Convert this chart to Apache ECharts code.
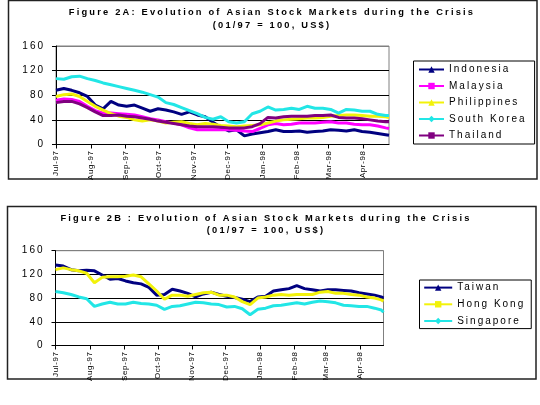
<!DOCTYPE html>
<html><head><meta charset="utf-8">
<script src="https://cdn.jsdelivr.net/npm/echarts@6/dist/echarts.min.js"></script>
<style>html,body{margin:0;padding:0;background:#fff}#c{width:540px;height:405px}</style>
</head><body><div id="c"></div>
<script>
// Letter spacing (the reference uses widely spaced text)
(function(){
  var P = CanvasRenderingContext2D.prototype;
  if (!('letterSpacing' in P)) return;
  function ls(font){
    var m = /(\d+(?:\.\d+)?)px/.exec(font || ''); var s = m ? parseFloat(m[1]) : 12;
    if (/bold|700/.test(font)) return '2.2px';
    if (s >= 9.5) return '2px';
    if (s >= 7.5 && s < 8.6) return '0.6px';
    return '0px';
  }
  var fT = P.fillText, mT = P.measureText;
  P.fillText = function(t,x,y,w){ var o=this.letterSpacing; this.letterSpacing=ls(this.font);
    var r = (w===undefined) ? fT.call(this,t,x,y) : fT.call(this,t,x,y,w); this.letterSpacing=o; return r; };
  P.measureText = function(t){ var o=this.letterSpacing; this.letterSpacing=ls(this.font);
    var r = mT.call(this,t); this.letterSpacing=o; return r; };
})();

const datesA = ['1997-07-01','1997-07-08','1997-07-15','1997-07-22','1997-07-29','1997-08-05','1997-08-12','1997-08-19','1997-08-26','1997-09-02',
'1997-09-09','1997-09-16','1997-09-23','1997-09-30','1997-10-07','1997-10-14','1997-10-21','1997-10-28','1997-11-04','1997-11-11',
'1997-11-18','1997-11-25','1997-12-02','1997-12-09','1997-12-16','1997-12-23','1997-12-30','1998-01-06','1998-01-13','1998-01-20',
'1998-01-27','1998-02-03','1998-02-10','1998-02-17','1998-02-24','1998-03-03','1998-03-10','1998-03-17','1998-03-24','1998-03-31',
'1998-04-07','1998-04-14','1998-04-21','1998-04-24'];
const datesB = ['1997-07-01','1997-07-08','1997-07-15','1997-07-22','1997-07-29','1997-08-05','1997-08-12','1997-08-19','1997-08-26','1997-09-02',
'1997-09-09','1997-09-16','1997-09-23','1997-09-30','1997-10-07','1997-10-14','1997-10-21','1997-10-28','1997-11-04','1997-11-11',
'1997-11-18','1997-11-25','1997-12-02','1997-12-09','1997-12-16','1997-12-23','1997-12-30','1998-01-06','1998-01-13','1998-01-20',
'1998-01-27','1998-02-03','1998-02-10','1998-02-17','1998-02-24','1998-03-03','1998-03-10','1998-03-17','1998-03-24','1998-03-31',
'1998-04-07','1998-04-14','1998-04-20','1998-04-22'];

const indonesia   = [88,91,88,84,78,64,58,70,64,62, 64,59,54,58,56,53,49,53,48,45, 36,28,22,24,14,17,19,21,24,21, 21,22,20,21,22,24,23,22,24,21, 20,18,16,15];
const malaysia    = [72,74,73,70,62,55,51,51,50,49, 48,45,42,40,37,35,32,27,24,24, 24,24,24,23,22,21,26,32,34,32, 33,35,35,35,36,37,35,35,33,32, 32,30,27,26];
const philippines = [78,81,82,78,70,62,56,50,46,44, 40,38,40,38,35,36,37,34,32,34, 33,31,30,29,30,31,32,35,38,40, 41,42,43,43,44,46,47,48,48,47, 46,46,45,44];
const southKorea  = [107,106,110,111,107,104,100,97,94,91, 88,85,81,77,68,65,60,55,50,44, 41,45,37,35,37,50,54,61,56,57, 59,57,62,59,59,57,51,57,56,54, 54,49,47,47];
const thailand    = [68,70,70,66,60,53,47,47,48,46, 45,43,41,38,36,34,32,30,29,29, 29,28,27,27,27,29,34,44,43,45, 46,46,46,47,47,48,44,43,43,42, 40,38,37,37];

const taiwan    = [136,134,128,126,127,126,119,112,113,109, 106,104,98,85,86,95,92,88,82,87, 90,86,83,81,78,74,82,83,92,94, 96,101,96,94,92,94,94,93,92,89, 87,85,82,80];
const hongKong  = [128,131,128,126,122,106,115,116,116,117, 119,116,104,92,78,85,85,83,86,89, 90,85,85,82,74,69,80,82,85,86, 85,86,86,86,90,91,88,88,86,85, 82,80,77,75];
const singapore = [91,89,86,82,79,66,70,73,70,70, 73,71,70,68,61,66,67,70,73,72, 70,69,65,66,62,52,61,63,67,68, 70,72,70,73,75,74,72,68,67,66, 66,63,60,56];

const monthStarts = ['1997-07-01','1997-08-01','1997-09-01','1997-10-01','1997-11-01','1997-12-01','1998-01-01','1998-02-01','1998-03-01','1998-04-01'];
const monthLabels = ['Jul-97','Aug-97','Sep-97','Oct-97','Nov-97','Dec-97','Jan-98','Feb-98','Mar-98','Apr-98'];
const yTicks = [0,40,80,120,160];

const namesA = ['Indonesia','Malaysia','Philippines','South Korea','Thailand'];
const namesB = ['Taiwan','Hong Kong','Singapore'];

const FF = '"Liberation Sans", Arial, sans-serif';
function ts(s){ const p = s.split('-'); return new Date(+p[0], +p[1]-1, +p[2]).getTime(); }
function pairs(dates, vals){ return dates.map((d,i)=>[ts(d), vals[i]]); }
const monthTs = monthStarts.map(ts);
function fmt(v){ const i = monthTs.indexOf(+v); return i >= 0 ? monthLabels[i] : ''; }

function xAxis(gi, maxDate){
  return {type:'time', gridIndex:gi, min:ts('1997-07-01'), max:ts(maxDate), splitNumber:10,
    axisLine:{show:true, lineStyle:{color:'#000', width:1}},
    axisTick:{show:true, length:4, lineStyle:{color:'#000'}},
    axisLabel:{rotate:90, fontSize:8, color:'#000', fontFamily:FF, margin:6, formatter:fmt},
    splitLine:{show:false}};
}
function yAxis(gi){
  return {type:'value', gridIndex:gi, min:yTicks[0], max:yTicks[yTicks.length-1], interval:40,
    axisLine:{show:true, lineStyle:{color:'#000', width:1}},
    axisTick:{show:true, length:4, lineStyle:{color:'#000'}},
    axisLabel:{fontSize:10, color:'#000', fontFamily:FF, margin:11},
    splitLine:{show:true, lineStyle:{color:['#000','#000','#000','#000','#808080'], width:1}}};
}
function line(name, gi, dates, vals, color, symbol, z){
  return {name:name, type:'line', xAxisIndex:gi, yAxisIndex:gi, data:pairs(dates, vals),
    showSymbol:false, symbol:symbol, symbolSize:5, z:z||2,
    lineStyle:{color:color, width:3}, itemStyle:{color:color}};
}
function legend(names, left, top, iw, pad, gap){
  return {orient:'vertical', left:left, top:top, data:names, padding:pad, itemGap:gap,
    itemWidth:iw, itemHeight:8, borderColor:'#000', borderWidth:1, backgroundColor:'#fff',
    textStyle:{fontSize:10, color:'#000', fontFamily:FF}, selectedMode:false};
}

const chart = echarts.init(document.getElementById('c'));
chart.setOption({
  animation:false,
  backgroundColor:'#fff',
  graphic:[
    {type:'rect', shape:{x:8.5, y:0.5, width:528.5, height:178.5}, style:{fill:'none', stroke:'#222', lineWidth:1.5}, silent:true, z:-1},
    {type:'rect', shape:{x:7.5, y:206.5, width:528.5, height:172.5}, style:{fill:'none', stroke:'#222', lineWidth:1.5}, silent:true, z:-1}
  ],
  title:[
    {text:'Figure 2A: Evolution of Asian Stock Markets during the Crisis\n(01/97 = 100, US$)', left:272, top:6, textAlign:'center', padding:0,
     textStyle:{fontSize:9.3, fontWeight:'bold', color:'#000', fontFamily:FF, lineHeight:12.7}},
    {text:'Figure 2B : Evolution of Asian Stock Markets during the Crisis\n(01/97 = 100, US$)', left:266, top:212, textAlign:'center', padding:0,
     textStyle:{fontSize:9.3, fontWeight:'bold', color:'#000', fontFamily:FF, lineHeight:12}}
  ],
  legend:[
    legend(namesA, 413.5, 61, 25, [2.5,8,2.5,4.5], 4.5),
    legend(namesB, 419.5, 280, 28, [1.6,6,1.6,3.7], 4.7)
  ],
  grid:[
    {left:56, top:46, width:333, height:98.5, show:true, borderColor:'#808080', borderWidth:1, containLabel:false},
    {left:55.5, top:250.7, width:328, height:94.8, show:true, borderColor:'#808080', borderWidth:1, containLabel:false}
  ],
  xAxis:[xAxis(0,'1998-04-24'), xAxis(1,'1998-04-22')],
  yAxis:[yAxis(0), yAxis(1)],
  series:[
    line('Indonesia',0,datesA,indonesia,'#000080','triangle'),
    line('Malaysia',0,datesA,malaysia,'#ff00ff','rect'),
    line('Philippines',0,datesA,philippines,'#f2f20a','triangle'),
    line('South Korea',0,datesA,southKorea,'#22e6e6','diamond'),
    line('Thailand',0,datesA,thailand,'#800080','rect'),
    line('Taiwan',1,datesB,taiwan,'#000080','triangle'),
    line('Hong Kong',1,datesB,hongKong,'#f2f20a','rect'),
    line('Singapore',1,datesB,singapore,'#22e6e6','diamond')
  ]
});
</script>
</body></html>
